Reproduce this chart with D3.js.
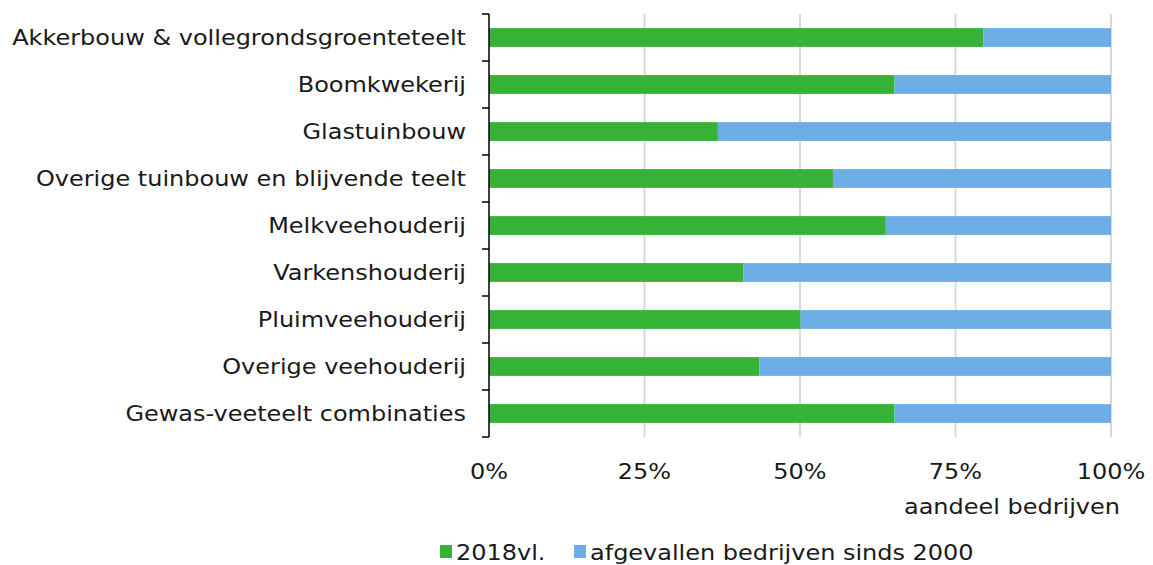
<!doctype html>
<html>
<head>
<meta charset="utf-8">
<title>Aandeel bedrijven per sector</title>
<script src="https://d3js.org/d3.v7.min.js"></script>
<style>
  body { margin: 0; background: #fff; }
  svg text { font-family: "DejaVu Sans", Verdana, sans-serif; fill: #1a1a1a; font-size: 20.5px; }
</style>
</head>
<body>
<div id="plot"></div>
<script>
// data
const categories = [
  "Akkerbouw & vollegrondsgroenteteelt",
  "Boomkwekerij",
  "Glastuinbouw",
  "Overige tuinbouw en blijvende teelt",
  "Melkveehouderij",
  "Varkenshouderij",
  "Pluimveehouderij",
  "Overige veehouderij",
  "Gewas-veeteelt combinaties"
];
const remaining = [79.5, 65.2, 36.8, 55.3, 63.8, 40.9, 50.1, 43.5, 65.2];   // 2018vl.
const dropped   = remaining.map(v => 100 - v);                               // afgevallen sinds 2000
const seriesNames = ["2018vl.", "afgevallen bedrijven sinds 2000"];
const seriesColors = ["#36b236", "#6badE4"];
const xTicks = [0, 25, 50, 75, 100];

const W = 1153, H = 565;
const margin = {top: 14, right: 42, bottom: 128, left: 489};
const width = W - margin.left - margin.right,
      height = H - margin.top - margin.bottom;
// DejaVu is narrower than the Verdana of the original, so stretch text a bit
const SX = 1.17;

const svg = d3.select("#plot").append("svg")
  .attr("width", W).attr("height", H);
const g = svg.append("g")
  .attr("transform", `translate(${margin.left},${margin.top})`);

// helper: text stretched horizontally around its anchor point
function label(parent, px, py, str, anchor) {
  parent.append("text")
    .attr("transform", `translate(${px},${py}) scale(${SX},1)`)
    .attr("text-anchor", anchor || "start")
    .text(str);
}

const x = d3.scaleLinear().domain([0, 100]).range([0, width]);
const y = d3.scaleBand().domain(categories).range([0, height]).paddingInner(0.6).paddingOuter(0.3);
const yAxisBand = d3.scaleBand().domain(categories).range([0, height]);

// gridlines
g.selectAll("line.grid")
  .data(xTicks.filter(t => t > 0))
  .enter().append("line")
    .attr("class", "grid")
    .attr("x1", d => x(d)).attr("x2", d => x(d))
    .attr("y1", 0).attr("y2", height)
    .style("stroke", "#d9d9d9")
    .style("stroke-width", 2);

// stacked bars
const rows = categories.map((c, i) => ({cat: c, vals: [remaining[i], dropped[i]]}));
const stack = d3.stack().keys([0, 1]).value((d, k) => d.vals[k]);
const layers = stack(rows);

g.selectAll("g.layer")
  .data(layers)
  .enter().append("g")
    .attr("class", "layer")
    .style("fill", (d, i) => seriesColors[i])
  .selectAll("rect")
  .data(d => d)
  .enter().append("rect")
    .attr("x", d => x(d[0]))
    .attr("y", d => y(d.data.cat))
    .attr("width", d => x(d[1]) - x(d[0]))
    .attr("height", y.bandwidth());

// y axis with ticks between categories
g.append("line")
  .attr("x1", 0).attr("x2", 0)
  .attr("y1", 0).attr("y2", height)
  .style("stroke", "#000").style("stroke-width", 1.5);
const bounds = categories.map(c => yAxisBand(c)).concat([height]);
g.selectAll("line.ytick")
  .data(bounds)
  .enter().append("line")
    .attr("class", "ytick")
    .attr("x1", -7).attr("x2", 0)
    .attr("y1", d => d).attr("y2", d => d)
    .style("stroke", "#000").style("stroke-width", 1.5);

categories.forEach(c => {
  label(g, -23, yAxisBand(c) + yAxisBand.bandwidth() / 2 + 7, c, "end");
});

// x tick labels
xTicks.forEach(t => label(g, x(t), height + 42, t + "%", "middle"));

// axis title
label(g, width + 9, height + 77, "aandeel bedrijven", "end");

// legend
const legend = svg.append("g").attr("transform", "translate(440,560)");
const legX = [0, 134];
seriesNames.forEach((name, i) => {
  legend.append("rect")
    .attr("x", legX[i]).attr("y", -15)
    .attr("width", 12).attr("height", 13)
    .style("fill", seriesColors[i]);
  label(legend, legX[i] + 16, 0, name);
});
</script>
</body>
</html>
